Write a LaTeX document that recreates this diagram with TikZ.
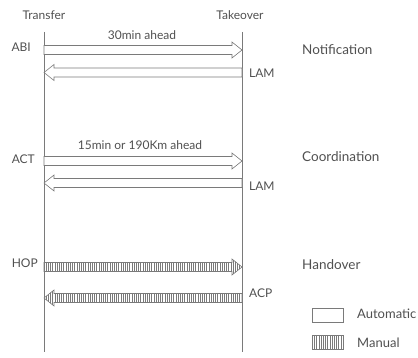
\documentclass[tikz,border=0pt]{standalone}
\usepackage{fontspec}
\setmainfont{Lato}
\usetikzlibrary{calc,patterns.meta}
\definecolor{linegray}{HTML}{7A7A7A}
\definecolor{textgray}{HTML}{505050}
\tikzset{
  lbl/.style={text=textgray,font=\fontsize{12}{14}\selectfont,inner sep=0pt},
  phase/.style={lbl,anchor=west,font=\fontsize{13.5}{16}\selectfont},
  legtxt/.style={lbl,anchor=west,font=\fontsize{13}{15}\selectfont},
  lifeline/.style={draw=linegray,line width=0.7pt},
  blockarrow/.style={draw=linegray,line width=0.6pt,line join=miter,
    to path={let \p1=($(\tikztotarget)!10pt!(\tikztostart)$) in
      ($(\tikztostart)!4.5pt!90:(\tikztotarget)$) --
      ($(\p1)!4.5pt!-90:(\tikztostart)$) --
      ($(\p1)!8pt!-90:(\tikztostart)$) --
      (\tikztotarget) --
      ($(\p1)!8pt!90:(\tikztostart)$) --
      ($(\p1)!4.5pt!90:(\tikztostart)$) --
      ($(\tikztostart)!4.5pt!-90:(\tikztotarget)$) -- cycle}},
  auto/.style={blockarrow,fill=white},
  hatch/.style={pattern={Lines[angle=90,distance=2.2pt,line width=0.8pt]},pattern color=linegray},
  manual/.style={blockarrow,hatch},
  legendbox/.style={draw=linegray,line width=0.6pt,minimum width=31pt,minimum height=14pt,inner sep=0pt}
}
\begin{document}
\begin{tikzpicture}[x=1pt,y=-1pt]
\useasboundingbox (0,0) rectangle (418,358);
% lifelines
\coordinate (lt) at (44,32);
\coordinate (lb) at (44,352);
\coordinate (rt) at (242,32);
\coordinate (rb) at (242,352);
\draw[lifeline] (lt) -- (lb);
\draw[lifeline] (rt) -- (rb);
\node[lbl] (transfer) at (44,15) {Transfer};
\node[lbl] (takeover) at (240,15) {Takeover};
% arrow endpoints
\coordinate (abiL) at (44,50);  \coordinate (abiR) at (242,50);
\coordinate (lam1L) at (44,72.5); \coordinate (lam1R) at (242,72.5);
\coordinate (actL) at (44,161); \coordinate (actR) at (242,161);
\coordinate (lam2L) at (44,183); \coordinate (lam2R) at (242,183);
\coordinate (hopL) at (44,267); \coordinate (hopR) at (242,267);
\coordinate (acpL) at (44,298); \coordinate (acpR) at (242,298);
\draw[auto] (abiL) to (abiR);
\draw[auto] (lam1R) to (lam1L);
\draw[auto] (actL) to (actR);
\draw[auto] (lam2R) to (lam2L);
\draw[manual] (hopL) to (hopR);
\draw[manual] (acpR) to (acpL);
% labels
\node[lbl,anchor=east] (abi) at (31,47) {ABI};
\node[lbl] (t30) at (142,35) {30min ahead};
\node[lbl,anchor=west] (lam1) at (249,73) {LAM};
\node[lbl,anchor=east] (act) at (35,159) {ACT};
\node[lbl] (t15) at (140,145) {15min or 190Km ahead};
\node[lbl,anchor=west] (lam2) at (249,186) {LAM};
\node[lbl,anchor=east] (hop) at (38,263) {HOP};
\node[lbl,anchor=west] (acp) at (249,293) {ACP};
\node[phase] (notif) at (302,50) {Notification};
\node[phase] (coord) at (302,157) {Coordination};
\node[phase] (hand) at (302,265) {Handover};
% legend
\node[legendbox,fill=white] (autobox) at (327.5,315) {};
\node[legendbox,hatch] (manbox) at (327.5,342.5) {};
\node[legtxt] (autotxt) at (357,314) {Automatic};
\node[legtxt] (mantxt) at (357,343) {Manual};
\end{tikzpicture}
\end{document}
